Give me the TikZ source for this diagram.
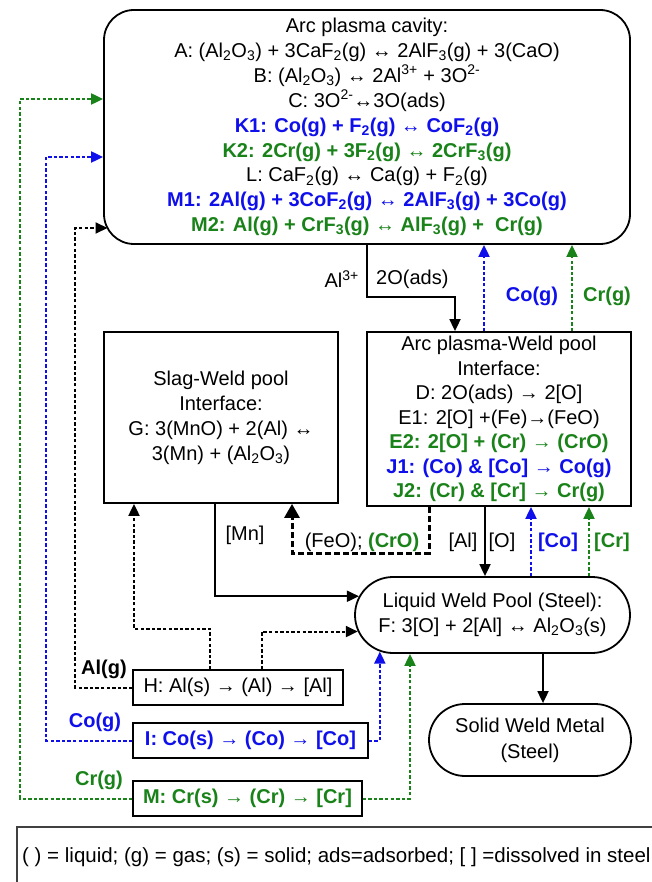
\documentclass[tikz,border=0pt]{standalone}
\usepackage{fontspec}
\setmainfont{Liberation Sans}
\usetikzlibrary{arrows.meta,shapes.misc}
\definecolor{cblue}{RGB}{15,15,235}
\definecolor{cgreen}{RGB}{25,130,25}
\newcommand{\chsub}[1]{\textsubscript{#1}}
\newcommand{\chsup}[1]{\textsuperscript{#1}}
\begin{document}
\begin{tikzpicture}[x=1pt,y=-1pt,
  box/.style={draw,line width=1.8pt,align=center,inner sep=0pt},
  sbox/.style={draw,line width=1.3pt,inner sep=0pt,minimum height=35pt,font=\fontsize{20}{24}\selectfont},
  lab/.style={inner sep=0pt,font=\fontsize{20}{24}\selectfont},
  bl/.style={text=cblue,font=\fontsize{20}{24}\selectfont\bfseries},
  gr/.style={text=cgreen,font=\fontsize{20}{24}\selectfont\bfseries},
  tip/.style={-{Triangle[length=12pt,width=11pt]}},
  solidarr/.style={tip,line width=1.8pt},
  dotline/.style={tip,line width=2pt,dash pattern=on 3.4pt off 2.2pt},
  thickdash/.style={-{Triangle[length=14pt,width=15pt]},line width=3pt,dash pattern=on 6pt off 3pt}
]
\useasboundingbox (0,0) rectangle (652,882);

% main boxes
\node[box,rounded corners=30pt,minimum width=526pt,minimum height=234pt,
      font=\fontsize{20}{24.9}\selectfont] (top) at (367,127) {%
Arc plasma cavity:\\
A: (Al\chsub{2}O\chsub{3}) + 3CaF\chsub{2}(g) ↔ 2AlF\chsub{3}(g) + 3(CaO)\\
B: (Al\chsub{2}O\chsub{3}) ↔ 2Al\chsup{3+} + 3O\chsup{2-}\\
C: 3O\chsup{2-}↔3O(ads)\\
{\bfseries\color{cblue}K1: Co(g) + F\chsub{2}(g) ↔ CoF\chsub{2}(g)}\\
{\bfseries\color{cgreen}K2: 2Cr(g) + 3F\chsub{2}(g) ↔ 2CrF\chsub{3}(g)}\\
L: CaF\chsub{2}(g) ↔ Ca(g) + F\chsub{2}(g)\\
{\bfseries\color{cblue}M1: 2Al(g) + 3CoF\chsub{2}(g) ↔ 2AlF\chsub{3}(g) + 3Co(g)}\\
{\bfseries\color{cgreen}M2: Al(g) + CrF\chsub{3}(g) ↔ AlF\chsub{3}(g) +\ \ Cr(g)}};

\node[box,minimum width=264pt,minimum height=174pt,
      font=\fontsize{20}{24.5}\selectfont] (rb) at (499,419) {%
Arc plasma-Weld pool\\
Interface:\\
D: 2O(ads) → 2[O]\\
E1: 2[O] +(Fe)→(FeO)\\
{\bfseries\color{cgreen}E2: 2[O] + (Cr) → (CrO)}\\
{\bfseries\color{cblue}J1: (Co) \& [Co] → Co(g)}\\
{\bfseries\color{cgreen}J2: (Cr) \& [Cr] → Cr(g)}};

\node[box,minimum width=234pt,minimum height=171pt,
      font=\fontsize{20}{25}\selectfont] (slag) at (221,417.5) {%
Slag-Weld pool\\
Interface:\\
G: 3(MnO) + 2(Al) ↔\\
3(Mn) + (Al\chsub{2}O\chsub{3})};

\node[box,rounded rectangle,minimum width=275pt,minimum height=76pt,
      font=\fontsize{20}{25}\selectfont] (pool) at (492.5,615) {%
Liquid Weld Pool (Steel):\\
F: 3[O] + 2[Al] ↔ Al\chsub{2}O\chsub{3}(s)};

\node[box,rounded rectangle,minimum width=202pt,minimum height=72pt,
      font=\fontsize{20}{26}\selectfont] (solid) at (530,740) {%
Solid Weld Metal\\
(Steel)};

\node[sbox,minimum width=210pt] (H) at (238,687.5) {H: Al(s) → (Al) → [Al]};
\node[sbox,minimum width=235pt,text=cblue,font=\fontsize{20}{24}\selectfont\bfseries] (I) at (250.5,740.5) {I: Co(s) → (Co) → [Co]};
\node[sbox,minimum width=229pt,text=cgreen,font=\fontsize{20}{24}\selectfont\bfseries] (M) at (247.5,798.5) {M: Cr(s) → (Cr) → [Cr]};

% legend
\draw[line width=1.2pt,black!75] (670,827) -- (17,827) -- (17,895);
\node[lab,anchor=west,font=\fontsize{20.5}{24}\selectfont] (legend) at (22,857) {( ) = liquid; (g) = gas; (s) = solid; ads=adsorbed; [ ] =dissolved in steel};

% labels
\node[lab,anchor=east] (al3) at (359,279) {Al\chsup{3+}};
\node[lab,anchor=west] (o2) at (376,279) {2O(ads)};
\node[bl,inner sep=0pt] (cog1) at (532,296) {Co(g)};
\node[gr,inner sep=0pt] (crg1) at (607,296) {Cr(g)};
\node[lab] (mn) at (245,535) {[Mn]};
\node[lab] (feo) at (362,542) {(FeO); {\bfseries\color{cgreen}(CrO)}};
\node[lab] (alb) at (463,542) {[Al]};
\node[lab] (ob) at (502,542) {[O]};
\node[bl,inner sep=0pt] (cob) at (558,542) {[Co]};
\node[gr,inner sep=0pt] (crb) at (612,542) {[Cr]};
\node[lab,font=\fontsize{20}{24}\selectfont\bfseries] (alg) at (104,669) {Al(g)};
\node[bl,inner sep=0pt] (cog2) at (95,722) {Co(g)};
\node[gr,inner sep=0pt] (crg2) at (99,780) {Cr(g)};

% connectors
\coordinate (tc) at (107.5,228);
\draw[solidarr] (367,0 |- top.south) |- (455,297) -- (455,0 |- rb.north);
\draw[dotline,cblue] (484,0 |- rb.north) -- (484,0 |- top.south);
\draw[dotline,cgreen] (572,0 |- rb.north) -- (572,0 |- top.south);

\draw[solidarr] (215,0 |- slag.south) |- (pool.172.3);
\draw[thickdash] (429,0 |- rb.south) |- (292,553) -- (292,0 |- slag.south);
\draw[solidarr] (485,0 |- rb.south) -- (485,0 |- pool.north);
\draw[dotline,cblue] (531,0 |- pool.north) -- (531,0 |- rb.south);
\draw[dotline,cgreen] (589,0 |- pool.north) -- (589,0 |- rb.south);
\draw[solidarr] (543,0 |- pool.south) -- (543,0 |- solid.north);

\draw[dotline] (210,0 |- H.north) |- (134,629) -- (134,0 |- slag.south);
\draw[dotline] (262,0 |- H.north) |- (pool.187.3);
\draw[dotline] (H.west) -| (75,228) -- (tc);
\draw[dotline,cblue] (I.west) -| (46,157) -- (top.west |- 0,157);
\draw[dotline,cgreen] (M.west) -| (20,99) -- (top.west |- 0,99);
\draw[dotline,cblue] (I.east) -| (pool.198);
\draw[dotline,cgreen] (M.east) -| (410,0 |- pool.south);
\end{tikzpicture}
\end{document}
